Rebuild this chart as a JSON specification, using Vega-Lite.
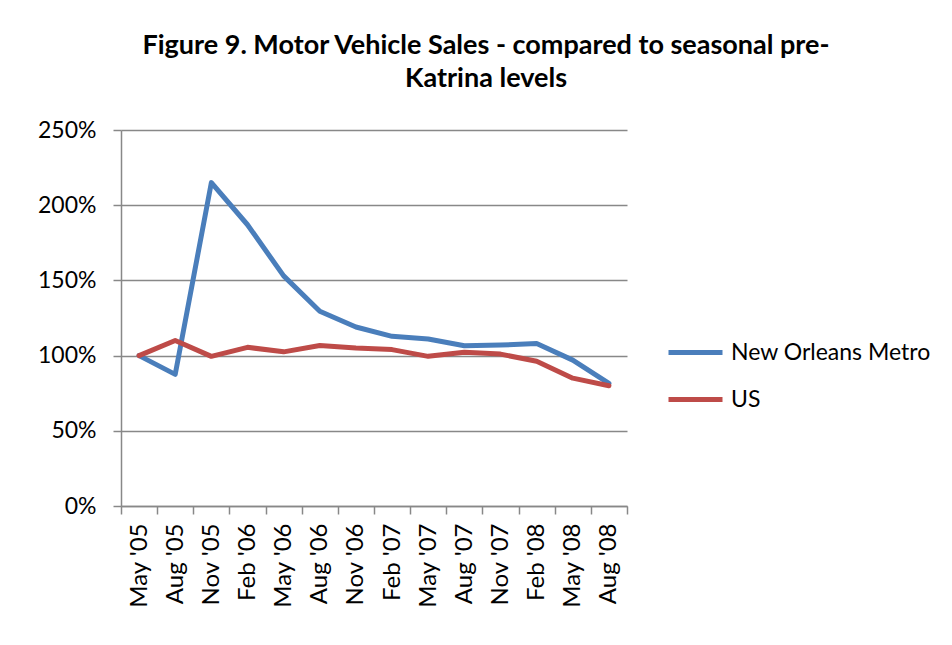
{
  "$schema": "https://vega.github.io/schema/vega-lite/v6.json",
  "width": 506,
  "height": 376,
  "autosize": {"type": "none"},
  "padding": {"left": 121, "top": 130, "right": 325, "bottom": 139},
  "background": "white",
  "title": {
    "text": ["Figure 9. Motor Vehicle Sales - compared to seasonal pre-", "Katrina levels"],
    "font": "Lato",
    "fontSize": 27,
    "fontWeight": "bold",
    "color": "#000000",
    "anchor": "middle",
    "frame": "group",
    "dx": 112,
    "offset": 26,
    "lineHeight": 33
  },
  "config": {
    "view": {"stroke": null},
    "font": "Lato"
  },
  "data": {
    "values": [
      {"date": "May '05", "series": "New Orleans Metro", "value": 1.00},
      {"date": "Aug '05", "series": "New Orleans Metro", "value": 0.875},
      {"date": "Nov '05", "series": "New Orleans Metro", "value": 2.15},
      {"date": "Feb '06", "series": "New Orleans Metro", "value": 1.87},
      {"date": "May '06", "series": "New Orleans Metro", "value": 1.53},
      {"date": "Aug '06", "series": "New Orleans Metro", "value": 1.295},
      {"date": "Nov '06", "series": "New Orleans Metro", "value": 1.19},
      {"date": "Feb '07", "series": "New Orleans Metro", "value": 1.128},
      {"date": "May '07", "series": "New Orleans Metro", "value": 1.11},
      {"date": "Aug '07", "series": "New Orleans Metro", "value": 1.065},
      {"date": "Nov '07", "series": "New Orleans Metro", "value": 1.07},
      {"date": "Feb '08", "series": "New Orleans Metro", "value": 1.08},
      {"date": "May '08", "series": "New Orleans Metro", "value": 0.97},
      {"date": "Aug '08", "series": "New Orleans Metro", "value": 0.815},
      {"date": "May '05", "series": "US", "value": 1.00},
      {"date": "Aug '05", "series": "US", "value": 1.10},
      {"date": "Nov '05", "series": "US", "value": 0.995},
      {"date": "Feb '06", "series": "US", "value": 1.055},
      {"date": "May '06", "series": "US", "value": 1.025},
      {"date": "Aug '06", "series": "US", "value": 1.067},
      {"date": "Nov '06", "series": "US", "value": 1.05},
      {"date": "Feb '07", "series": "US", "value": 1.04},
      {"date": "May '07", "series": "US", "value": 0.995},
      {"date": "Aug '07", "series": "US", "value": 1.022},
      {"date": "Nov '07", "series": "US", "value": 1.01},
      {"date": "Feb '08", "series": "US", "value": 0.962},
      {"date": "May '08", "series": "US", "value": 0.85},
      {"date": "Aug '08", "series": "US", "value": 0.80}
    ]
  },
  "mark": {"type": "line", "strokeWidth": 5, "strokeCap": "round", "strokeJoin": "round"},
  "encoding": {
    "x": {
      "field": "date",
      "type": "ordinal",
      "sort": null,
      "bandPosition": 0.5,
      "scale": {"type": "band", "paddingInner": 0, "paddingOuter": 0},
      "axis": {
        "title": null,
        "labelAngle": -90,
        "labelAlign": "right",
        "labelBaseline": "middle",
        "labelFont": "Lato",
        "labelFontSize": 24,
        "labelColor": "#000000",
        "labelPadding": 9,
        "tickBand": "extent",
        "tickSize": 8,
        "tickWidth": 1.5,
        "tickColor": "#888888",
        "domainColor": "#888888",
        "domainWidth": 1.5,
        "grid": false
      }
    },
    "y": {
      "field": "value",
      "type": "quantitative",
      "scale": {"domain": [0, 2.5], "nice": false},
      "axis": {
        "title": null,
        "values": [0, 0.5, 1, 1.5, 2, 2.5],
        "format": ".0%",
        "labelFont": "Lato",
        "labelFontSize": 23,
        "labelColor": "#000000",
        "labelPadding": 17,
        "tickSize": 8,
        "tickWidth": 1.5,
        "tickColor": "#888888",
        "domainColor": "#888888",
        "domainWidth": 1.5,
        "grid": true,
        "gridColor": "#888888",
        "gridWidth": 1.5
      }
    },
    "color": {
      "field": "series",
      "type": "nominal",
      "scale": {"domain": ["New Orleans Metro", "US"], "range": ["#4a7ebb", "#be4b48"]},
      "legend": {
        "title": null,
        "orient": "none",
        "legendX": 545,
        "legendY": 193,
        "symbolType": "stroke",
        "symbolSize": 2916,
        "symbolStrokeWidth": 5,
        "labelFont": "Lato",
        "labelFontSize": 23,
        "labelColor": "#000000",
        "labelOffset": 6,
        "labelLimit": 0,
        "rowPadding": 5
      }
    }
  }
}
